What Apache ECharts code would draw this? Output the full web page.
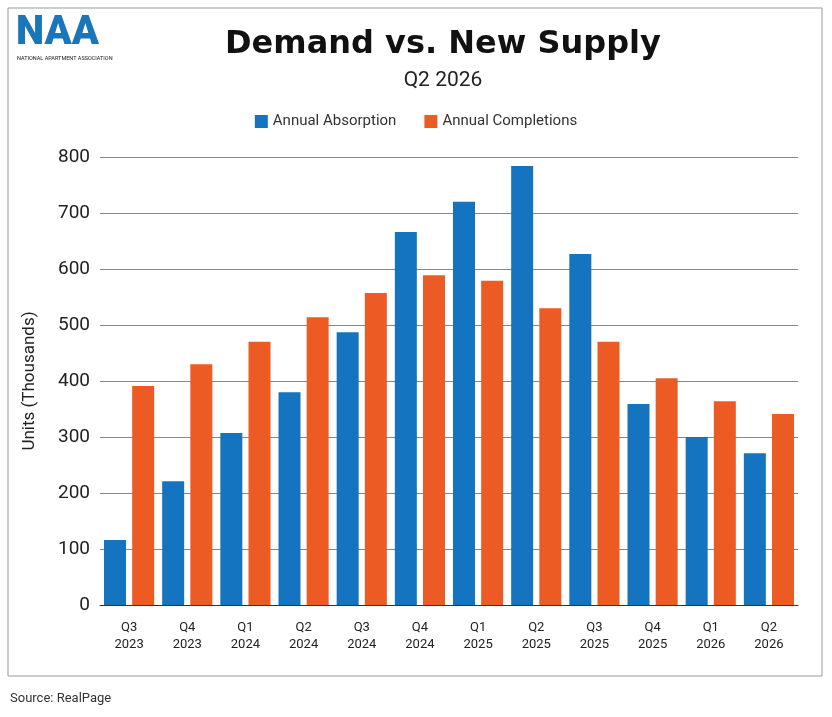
<!DOCTYPE html>
<html>
<head>
<meta charset="utf-8">
<script src="https://cdn.jsdelivr.net/npm/echarts@6/dist/echarts.min.js"></script>
<style>
  html, body { margin: 0; padding: 0; background: #fff; }
  #chart { width: 832px; height: 717px; }
</style>
</head>
<body>
<div id="chart"></div>
<script>
const categories = ['Q3\n2023', 'Q4\n2023', 'Q1\n2024', 'Q2\n2024', 'Q3\n2024', 'Q4\n2024',
  'Q1\n2025', 'Q2\n2025', 'Q3\n2025', 'Q4\n2025', 'Q1\n2026', 'Q2\n2026'];
const absorption = [116, 221, 307, 380, 487, 666, 720, 784, 627, 359, 300, 271];
const completions = [391, 430, 470, 514, 557, 589, 579, 530, 470, 405, 364, 341];

const chart = echarts.init(document.getElementById('chart'));
const font = 'Roboto, "Liberation Sans", sans-serif';

chart.setOption({
  animation: false,
  textStyle: { fontFamily: font },
  title: [
    { text: 'Demand vs. New Supply', left: 438, top: 24, textAlign: 'center',
      textStyle: { fontSize: 32, fontWeight: 'bold', color: '#111', fontFamily: '"DejaVu Sans", sans-serif' } },
    { text: 'Q2 2026', left: 438, top: 65, textAlign: 'center',
      textStyle: { fontSize: 21, fontWeight: 'normal', color: '#222', fontFamily: font } }
  ],
  graphic: [
    { type: 'rect', shape: { x: 8, y: 8, width: 814, height: 668 },
      style: { fill: 'none', stroke: '#999', lineWidth: 1 } },
    { type: 'text', left: 16, top: 14,
      style: { text: 'NAA', fontSize: 40, fontWeight: 900, fill: '#1a75bb', fontFamily: font } },
    { type: 'text', left: 17, top: 56,
      style: { text: 'NATIONAL APARTMENT ASSOCIATION', fontSize: 5.5, fill: '#222', fontFamily: font } },
    { type: 'text', left: 10, top: 692,
      style: { text: 'Source: RealPage', fontSize: 13, fill: '#333', fontFamily: font } }
  ],
  legend: {
    top: 109, left: 'center', itemWidth: 13, itemHeight: 13, itemGap: 28,
    icon: 'rect',
    textStyle: { fontSize: 15, color: '#333', fontFamily: font },
    data: ['Annual Absorption', 'Annual Completions']
  },
  grid: { left: 100, right: 34, top: 157, bottom: 112 },
  xAxis: {
    type: 'category', data: categories,
    axisLine: { lineStyle: { color: '#333' } },
    axisTick: { show: false },
    axisLabel: { fontSize: 13, color: '#222', lineHeight: 17, margin: 14 }
  },
  yAxis: {
    type: 'value', min: 0, max: 800, interval: 100,
    name: 'Units (Thousands)', nameLocation: 'middle', nameGap: 62,
    nameTextStyle: { fontSize: 17, color: '#222' },
    axisLabel: { fontSize: 19, color: '#222', margin: 10 },
    splitLine: { lineStyle: { color: '#888' } }
  },
  series: [
    { name: 'Annual Absorption', type: 'bar', data: absorption,
      itemStyle: { color: '#1474bf' }, barWidth: 22, barGap: '28%' },
    { name: 'Annual Completions', type: 'bar', data: completions,
      itemStyle: { color: '#ed5b25' }, barWidth: 22 }
  ]
});
</script>
</body>
</html>
